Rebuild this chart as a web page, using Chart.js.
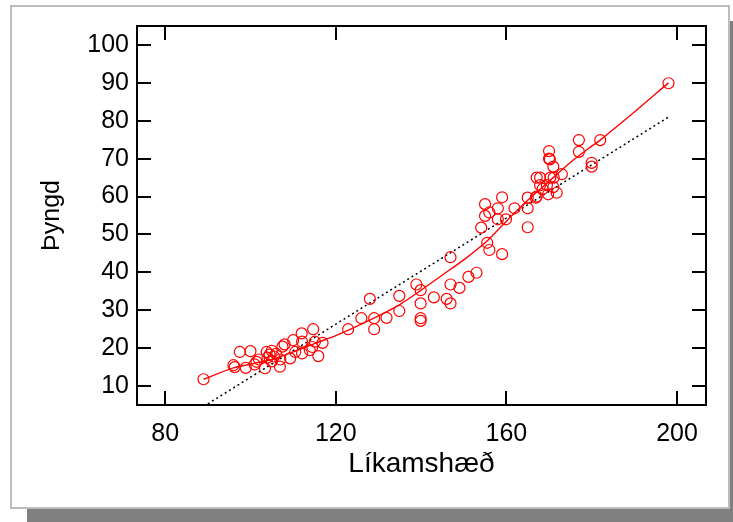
<!DOCTYPE html>
<html>
<head>
<meta charset="utf-8">
<script src="https://cdn.jsdelivr.net/npm/chart.js@4.4.0/dist/chart.umd.min.js"></script>
<style>
  body { margin: 0; background: #fff; }
  #wrap { position: relative; width: 733px; height: 522px; overflow: hidden; }
  #shadow { position: absolute; left: 27px; top: 21px; width: 720px; height: 510px; background: #808080; }
  #frame { position: absolute; left: 10px; top: 5px; width: 716px; height: 500px; background: #fff; border: 2px solid #bdbdbd; }
  #graf { position: absolute; left: 0; top: 0; }
</style>
</head>
<body>
<div id="wrap">
  <div id="shadow"></div>
  <div id="frame"></div>
  <canvas id="graf" width="733" height="522"></canvas>
</div>
<script>
// Líkamshæð (x) og þyngd (y), lesið af myndinni
const haed = [89, 96, 96.3, 97.5, 98.9, 100, 101, 101.4, 102, 103.4, 103.8, 104, 104.5, 105, 105, 105.5, 106, 106.9, 107, 107.5,
  108, 109.3, 110, 110.5, 112, 112.1, 112.1, 113.9, 114.5, 114.7, 115.1, 115.9, 116.9,
  122.9, 126, 128, 129, 129, 131.9, 134.9, 134.9, 138.9, 139.9, 139.9, 139.9, 139.9, 143, 146, 146.9, 146.9, 146.9,
  149, 151.1, 153, 154.1, 155, 155, 156, 155.5, 156, 158, 158, 159, 159, 159.9, 161.9,
  165, 165, 165, 166.9, 167.1, 167.1, 167.9, 167.9, 168.5, 169.5, 169.8, 170.3, 171.1, 171, 171.8,
  170, 170, 170.2, 171, 173, 177, 177, 180, 180, 182, 198];
const thyngd = [11.8, 15.5, 15, 19, 14.8, 19.2, 15.7, 16.4, 17, 14.7, 19, 17.5, 18.3, 16.5, 19.3, 17.8, 18.5, 15.1, 17, 20.4,
  21, 17.3, 22.1, 19, 23.9, 21.7, 18.6, 19.5, 20.3, 25, 21.7, 17.9, 21.4,
  25, 27.9, 33, 25, 27.9, 28, 33.8, 29.8, 36.8, 35.3, 31.8, 27.9, 27.2, 33.4, 33, 31.8, 36.8, 44,
  35.9, 38.8, 39.9, 51.8, 58, 54.9, 55.8, 47.8, 45.9, 56.9, 54, 59.8, 44.8, 54, 56.9,
  59.7, 56.9, 51.9, 59.7, 60, 65, 65, 63, 62, 63, 60.6, 65, 65, 62.5, 61,
  72, 70, 69.8, 67.9, 65.9, 74.9, 71.8, 68.9, 67.9, 74.9, 89.9];

// sléttuð ferill (rauð lína)
const slettX = [89, 96, 101, 105, 110, 115, 120, 125, 130, 135, 140, 145, 150, 155, 160, 165, 170, 175, 180, 182, 190, 198];
const slettY = [11.8, 14.8, 16, 17, 19, 21.2, 23.3, 25.8, 28.5, 31.5, 35.3, 39.3, 43.3, 47.8, 53.5, 59, 64, 69, 73.3, 74.9, 82.3, 90];

// aðhvarfslína (svört punktalína)
const linaX = [89, 198.2];
const linaY = [4.6, 81.1];

const xTicks = [80, 120, 160, 200];
const yTicks = [10, 20, 30, 40, 50, 60, 70, 80, 90, 100];

const punktar = haed.map((v, i) => ({ x: v, y: thyngd[i] }));
const slett = slettX.map((v, i) => ({ x: v, y: slettY[i] }));
const lina = linaX.map((v, i) => ({ x: v, y: linaY[i] }));

// rammi með innvísandi merkjum
const rammi = {
  id: 'rammi',
  afterDatasetsDraw(chart) {
    const { ctx, chartArea: a, scales: { x, y } } = chart;
    const L = 14;
    ctx.save();
    ctx.strokeStyle = '#000';
    ctx.lineWidth = 2;
    ctx.strokeRect(a.left, a.top, a.right - a.left, a.bottom - a.top);
    ctx.beginPath();
    xTicks.forEach(v => {
      const p = Math.round(x.getPixelForValue(v));
      ctx.moveTo(p, a.bottom); ctx.lineTo(p, a.bottom - L);
      ctx.moveTo(p, a.top); ctx.lineTo(p, a.top + L);
    });
    yTicks.forEach(v => {
      const p = Math.round(y.getPixelForValue(v));
      ctx.moveTo(a.left, p); ctx.lineTo(a.left + L, p);
      ctx.moveTo(a.right, p); ctx.lineTo(a.right - L, p);
    });
    ctx.stroke();
    ctx.restore();
  }
};

new Chart(document.getElementById('graf'), {
  type: 'scatter',
  data: {
    datasets: [
      { data: lina, showLine: true, borderColor: '#000', borderWidth: 1.5, borderDash: [2, 3], pointRadius: 0, order: 3 },
      { data: slett, showLine: true, borderColor: '#ff0000', borderWidth: 1.4, tension: 0.3, pointRadius: 0, order: 2 },
      { data: punktar, pointStyle: 'circle', pointRadius: 5.5, borderWidth: 1.2, borderColor: '#ff0000', backgroundColor: 'rgba(0,0,0,0)', order: 1 }
    ]
  },
  options: {
    responsive: false,
    animation: false,
    layout: { padding: { top: 26, right: 27, left: 0, bottom: 0 } },
    plugins: { legend: { display: false }, tooltip: { enabled: false } },
    scales: {
      x: {
        type: 'linear', min: 73.4, max: 206.8,
        afterBuildTicks: s => { s.ticks = xTicks.map(v => ({ value: v })); },
        afterFit: s => { s.height = 117; },
        grid: { display: false, drawTicks: false },
        border: { display: false },
        ticks: { padding: 14, color: '#000', font: { family: 'Liberation Sans', size: 25 } },
        title: { display: true, text: 'Líkamshæð', color: '#000', padding: { top: 0, bottom: 41 }, font: { family: 'Liberation Sans', size: 28 } }
      },
      y: {
        type: 'linear', min: 5, max: 105,
        afterBuildTicks: s => { s.ticks = yTicks.map(v => ({ value: v })); },
        afterFit: s => { s.width = 137; },
        grid: { display: false, drawTicks: false },
        border: { display: false },
        ticks: { padding: 8, color: '#000', font: { family: 'Liberation Sans', size: 25 } },
        title: { display: true, text: 'Þyngd', color: '#000', padding: { top: 37, bottom: 0 }, font: { family: 'Liberation Sans', size: 25 } }
      }
    }
  },
  plugins: [rammi]
});
</script>
</body>
</html>
